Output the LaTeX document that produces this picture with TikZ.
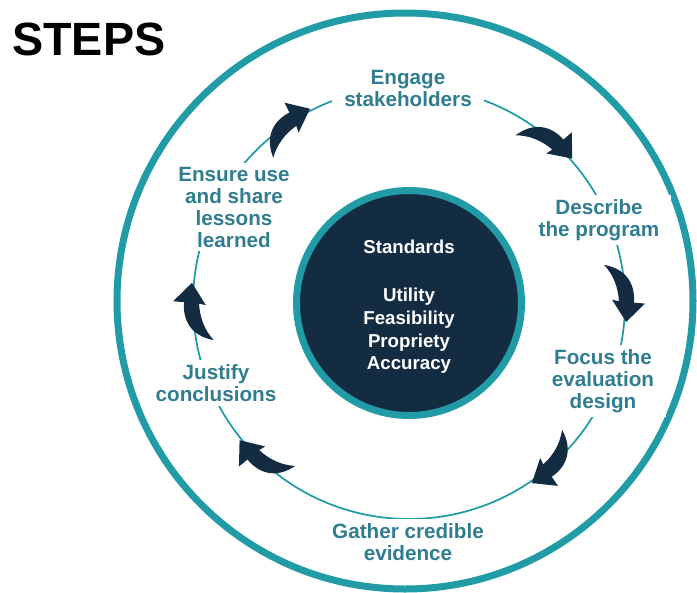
\documentclass[tikz,border=0pt]{standalone}
\usepackage{fontspec}
\setmainfont{Liberation Sans}
\usepackage{tikz}

\definecolor{ringteal}{RGB}{33,155,166}
\definecolor{labelteal}{RGB}{48,125,145}
\definecolor{navy}{RGB}{20,44,66}

% one curved arrow of the cycle, turned clockwise by #1 degrees from the top
\newcommand{\cyclearrow}[1]{%
  \begin{scope}[shift={(409,303)},rotate=#1,shift={(0,-218)}]
    \fill[arrowfill] (0,0) -- (-20,-17) -- (-20,-6) .. controls (-38,-6) and (-53,4) .. (-55,27) .. controls (-46,17) and (-34,11) .. (-20,9) -- (-21,16) -- cycle;
  \end{scope}}

\begin{document}
\begin{tikzpicture}[x=0.75pt,y=0.75pt,yscale=-1,xscale=1,
  steplabel/.style={fill=white,inner xsep=9pt,inner ysep=3pt,align=center,text=labelteal,font=\bfseries\fontsize{15.5}{16.5}\selectfont},
  arrowfill/.style={fill=navy,draw=none}]
\useasboundingbox (0,0) rectangle (697,593);

% big ring and the thin cycle line
\draw [color=ringteal, line width=5.25pt] (405,301) circle (288);
\draw [color=ringteal, line width=1.3pt] (409,303) circle (216);

% steps of the cycle
\node (engage) at (408,88) [steplabel] {Engage\\stakeholders};
\node (describe) at (599,220) [steplabel] {Describe\\the program};
\node (focus) at (603,381) [steplabel] {Focus the\\evaluation\\design};
\node (gather) at (408,542) [steplabel] {Gather credible\\evidence};
\node (justify) at (216,383) [steplabel] {Justify\\conclusions};
\node (ensure) at (234,207) [steplabel] {Ensure use\\and share\\lessons\\learned};

% arrows between the steps
\cyclearrow{48.5}
\cyclearrow{95}
\cyclearrow{145.7}
\cyclearrow{231}
\cyclearrow{275.3}
\cyclearrow{333}

% standards in the middle
\draw [fill=navy, draw=ringteal, line width=5.25pt] (409,303) circle (112.5);
\node (standards) at (409,307) [align=center, text=white, font=\bfseries\fontsize{14}{17}\selectfont] {Standards\\[19pt]Utility\\Feasibility\\Propriety\\Accuracy};

\node (title) at (12,55) [anchor=base west, inner sep=0pt, font=\bfseries\fontsize{35}{35}\selectfont] {STEPS};
\end{tikzpicture}
\end{document}
